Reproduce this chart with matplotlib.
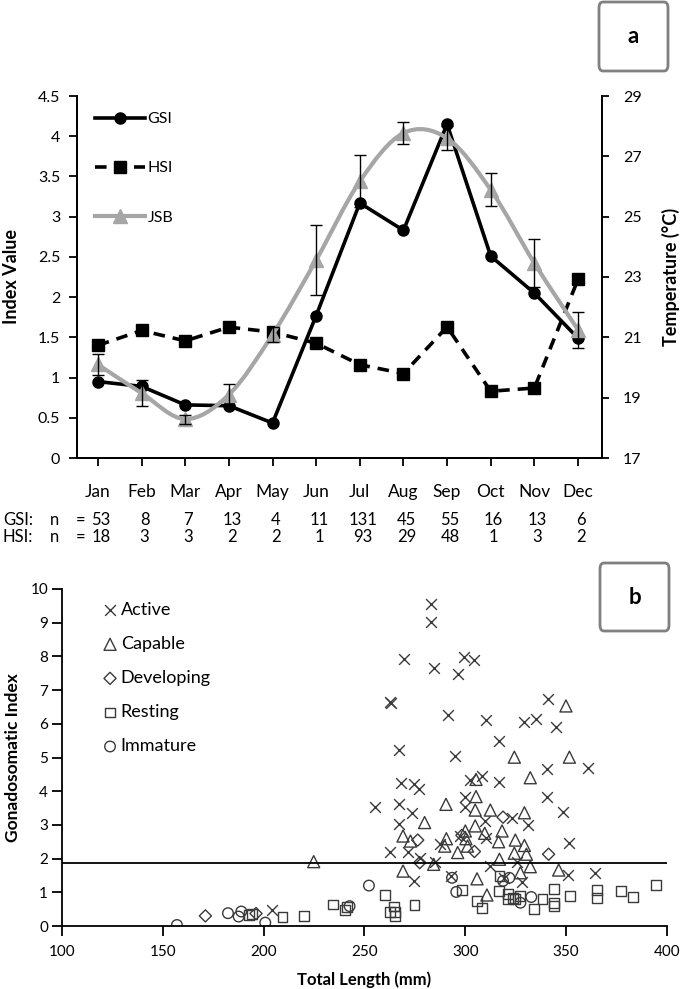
import matplotlib.pyplot as plt
import numpy as np
from matplotlib.lines import Line2D
from matplotlib.path import Path
from matplotlib.patches import PathPatch, FancyBboxPatch

plt.rcParams['font.family'] = ['Lato', 'DejaVu Sans']

# panel a: monthly indices
months = ['Jan', 'Feb', 'Mar', 'Apr', 'May', 'Jun', 'Jul', 'Aug', 'Sep', 'Oct', 'Nov', 'Dec']
gsi = [0.95, 0.89, 0.66, 0.65, 0.435, 1.77, 3.17, 2.83, 4.15, 2.51, 2.05, 1.49]
hsi = [1.40, 1.585, 1.456, 1.627, 1.565, 1.427, 1.16, 1.05, 1.63, 0.83, 0.87, 2.22]
jsb_temp = [20.1, 19.15, 18.29, 19.1, 21.09, 23.56, 26.17, 27.77, 27.6, 25.89, 23.46, 21.25]
jsb_err = [0.36, 0.43, 0.15, 0.35, 0.25, 1.17, 0.86, 0.37, 0.4, 0.55, 0.8, 0.6]
gsi_n = [53, 8, 7, 13, 4, 11, 131, 45, 55, 16, 13, 6]
hsi_n = [18, 3, 3, 2, 2, 1, 93, 29, 48, 1, 3, 2]

# panel b: total length (mm), GSI by stage
active = [(283, 9.55), (283, 9.02), (269.8, 7.93), (284.3, 7.67), (299.2, 7.98), (304.5, 7.88),
          (296.2, 7.47), (262.5, 6.66), (263, 6.62), (341, 6.75), (291.2, 6.25), (310.2, 6.11),
          (329.3, 6.06), (335.2, 6.15), (345, 5.91), (316.9, 5.49), (266.9, 5.22), (295, 5.04),
          (360.8, 4.70), (340.5, 4.67), (268.1, 4.23), (274.4, 4.20), (276.9, 4.06), (302.5, 4.33),
          (308.3, 4.45), (316.9, 4.27), (340.5, 3.83), (266.9, 3.61), (273.6, 3.34), (300, 3.84),
          (300, 3.54), (348.4, 3.38), (323.1, 3.21), (309.9, 3.12), (266.9, 3.02), (330.9, 2.99),
          (297.5, 2.67), (287.3, 2.42), (310.4, 2.62), (351.6, 2.47), (262.8, 2.20), (271.4, 2.20),
          (277.7, 2.01), (285.1, 1.90), (312.4, 1.78), (325.6, 1.90), (292.9, 1.48), (350.9, 1.50),
          (364.5, 1.58), (274.4, 1.34), (328.1, 1.31), (319.3, 1.43), (255, 3.54), (204.1, 0.47)]
capable = [(349.9, 6.53), (324.3, 5.01), (351.6, 5.01), (332.2, 4.40), (305.3, 4.35), (305.3, 3.84),
           (290.4, 3.61), (304.9, 3.44), (312.4, 3.44), (329.3, 3.36), (279.8, 3.07), (269.1, 2.67),
           (272.8, 2.52), (290.6, 2.59), (300, 2.82), (304.9, 2.97), (309.6, 2.75), (318.2, 2.82),
           (300.3, 2.59), (316.5, 2.50), (324.8, 2.55), (301.1, 2.37), (289.8, 2.37), (296.2, 2.18),
           (329.3, 2.39), (324.3, 2.16), (330.3, 2.13), (316.9, 1.98), (284.3, 1.83), (269.1, 1.63),
           (332.2, 1.76), (327.3, 1.58), (346.3, 1.66), (305.8, 1.40), (310.7, 0.92), (224.8, 1.91)]
developing = [(318.7, 3.23), (276.4, 2.55), (304.5, 2.21), (341.3, 2.13), (277.4, 1.88),
              (298.3, 2.69), (171.1, 0.30), (196.2, 0.37)]
resting = [(298.3, 1.06), (305.8, 0.74), (308.3, 0.54), (316.9, 1.48), (316.5, 1.04), (321.2, 0.96),
           (321.2, 0.79), (324.8, 0.79), (323.6, 0.84), (327.3, 0.89), (333.9, 0.51), (338.3, 0.81),
           (343.8, 1.11), (343.8, 0.59), (343.8, 0.69), (352.1, 0.89), (365.3, 1.06), (365.3, 0.84),
           (377.2, 1.04), (383.1, 0.86), (394.7, 1.21), (192.9, 0.33), (194.2, 0.35), (209.3, 0.26),
           (220.2, 0.30), (234.3, 0.64), (240.3, 0.47), (241.5, 0.56), (260.3, 0.93), (262.5, 0.42),
           (264.7, 0.58), (265, 0.42), (265, 0.30), (274.8, 0.62)]
immature = [(293.4, 1.43), (295.5, 1.01), (321.8, 1.43), (332.7, 0.86), (327.3, 0.69), (318.7, 1.34),
            (157, 0.03), (182.3, 0.38), (187.6, 0.28), (188.9, 0.43), (200.8, 0.10), (252.2, 1.20),
            (242.6, 0.59)]
gsi_threshold = 1.88


def smooth_path(x, y):
    # Excel style smoothed line: Catmull-Rom segments as cubic Bezier curves
    pts = np.column_stack([x, y]).astype(float)
    n = len(pts)
    verts = [pts[0]]
    codes = [Path.MOVETO]
    for i in range(n - 1):
        p0 = pts[max(i - 1, 0)]
        p1 = pts[i]
        p2 = pts[i + 1]
        p3 = pts[min(i + 2, n - 1)]
        verts += [p1 + (p2 - p0) / 6, p2 - (p3 - p1) / 6, p2]
        codes += [Path.CURVE4] * 3
    return Path(verts, codes)


W, H = 685, 989
fig = plt.figure(figsize=(W / 100, H / 100), dpi=100)

# ---------- panel a ----------
ax = fig.add_axes([77 / W, 1 - 458 / H, 525 / W, 362 / H])
ax2 = ax.twinx()
x = np.arange(len(months))

ax.plot(x, gsi, color='black', lw=2.6, marker='o', ms=8, zorder=3)
ax.plot(x, hsi, color='black', lw=2.6, ls=(0, (3.2, 2.2)), marker='s', ms=9, zorder=3)
ax2.add_patch(PathPatch(smooth_path(x, jsb_temp), fill=False, edgecolor='#a6a6a6', lw=3, zorder=2))
ax2.errorbar(x, jsb_temp, yerr=jsb_err, fmt='none', ecolor='black', elinewidth=1, capsize=4, zorder=4)
ax2.plot(x, jsb_temp, ls='none', marker='^', ms=10, color='#a6a6a6', zorder=3)

ax.set_xlim(-0.48, 11.55)
ax.set_ylim(0, 4.5)
ax.set_yticks(np.arange(0, 4.51, 0.5))
ax.set_yticklabels(['0', '0.5', '1', '1.5', '2', '2.5', '3', '3.5', '4', '4.5'])
ax2.set_ylim(17, 29)
ax2.set_yticks(range(17, 30, 2))
ax.set_xticks(x)
ax.set_xticklabels(months)
ax.tick_params(axis='x', length=6, width=1.3, pad=13, labelsize=12.5)
ax.tick_params(axis='y', length=6, width=1.3, pad=6, labelsize=11.5)
ax2.tick_params(axis='y', length=5, width=1.3, pad=10, labelsize=11.5)
for a in (ax, ax2):
    a.spines['top'].set_visible(False)
    for s in ('left', 'right', 'bottom'):
        a.spines[s].set_linewidth(1.3)
ax.set_ylabel('Index Value', fontsize=13, fontweight='bold')
ax.yaxis.set_label_coords(-57 / 525, 0.5)
ax2.set_ylabel('Temperature (°C)', fontsize=13, fontweight='bold')
ax2.yaxis.set_label_coords(1 + 60 / 525, 0.5)

handles = [Line2D([], [], color='black', lw=2.6, marker='o', ms=8),
           Line2D([], [], color='black', lw=2.6, ls=(0, (3.2, 2.2)), marker='s', ms=9),
           Line2D([], [], color='#a6a6a6', lw=3, marker='^', ms=10)]
ax2.legend(handles, ['GSI', 'HSI', 'JSB'], loc='upper left', bbox_to_anchor=(18 / 525, 1 - 16 / 362),
           frameon=False, fontsize=11.5, handlelength=3.1, handletextpad=0.2, labelspacing=2.2,
           borderpad=0, borderaxespad=0)

# sample sizes under the months
row_gsi, row_hsi = 520, 537
fig.text(3 / W, 1 - row_gsi / H, 'GSI:', fontsize=12, va='center')
fig.text(3 / W, 1 - row_hsi / H, 'HSI:', fontsize=12, va='center')
for yy in (row_gsi, row_hsi):
    fig.text(50 / W, 1 - yy / H, 'n', fontsize=12, va='center')
    fig.text(76 / W, 1 - yy / H, '=', fontsize=12, va='center')
for i in range(len(months)):
    xf = fig.transFigure.inverted().transform(ax.transData.transform((i, 0)))[0] + 3 / W
    fig.text(xf, 1 - row_gsi / H, str(gsi_n[i]), fontsize=12, va='center', ha='center')
    fig.text(xf, 1 - row_hsi / H, str(hsi_n[i]), fontsize=12, va='center', ha='center')

# ---------- panel b ----------
bx = fig.add_axes([62 / W, 1 - 926 / H, 605 / W, 337 / H])
mc = '#3a3a3a'
groups = [(active, 'x', 'Active', 60), (capable, '^', 'Capable', 75), (developing, 'D', 'Developing', 38),
          (resting, 's', 'Resting', 50), (immature, 'o', 'Immature', 58)]
for pts, m, lab, s in groups:
    px, py = zip(*pts)
    if m == 'x':
        bx.scatter(px, py, marker=m, s=s, color=mc, linewidths=1.0, label=lab)
    else:
        bx.scatter(px, py, marker=m, s=s, facecolors='none', edgecolors=mc, linewidths=1.0, label=lab)
bx.axhline(gsi_threshold, color='black', lw=1.3)

bx.set_xlim(100, 400)
bx.set_ylim(0, 10)
bx.set_xticks(range(100, 401, 50))
bx.set_yticks(range(0, 11))
bx.tick_params(axis='x', length=7, width=1.3, pad=7, labelsize=11)
bx.tick_params(axis='y', length=7, width=1.3, pad=3, labelsize=11)
bx.spines['top'].set_visible(False)
bx.spines['right'].set_visible(False)
bx.spines['left'].set_linewidth(1.3)
bx.spines['bottom'].set_linewidth(1.3)
bx.set_xlabel('Total Length (mm)', fontsize=12, fontweight='bold')
bx.xaxis.set_label_coords(0.5, -45 / 337)
bx.set_ylabel('Gonadosomatic Index', fontsize=12.5, fontweight='bold')
bx.yaxis.set_label_coords(-41 / 605, 0.5)
bx.legend(loc='upper left', bbox_to_anchor=(39 / 605, 1 - 13 / 337), frameon=False, fontsize=13,
          handlelength=1.0, handletextpad=0.1, labelspacing=1.0, borderpad=0, borderaxespad=0,
          scatterpoints=1)

# panel letters
for (x0, y0, x1, y1, letter) in [(599, 2, 668, 71, 'a'), (600, 563, 669, 631, 'b')]:
    fig.patches.append(FancyBboxPatch((x0 / W, 1 - y1 / H), (x1 - x0) / W, (y1 - y0) / H,
                                      boxstyle='round,pad=0,rounding_size=0.006',
                                      transform=fig.transFigure, facecolor='white',
                                      edgecolor='#808080', lw=2))
    fig.text((x0 + x1) / 2 / W, 1 - (y0 + y1) / 2 / H, letter, fontsize=16, fontweight='bold',
             ha='center', va='center')

fig.savefig('out.png', dpi=100, facecolor='white')
